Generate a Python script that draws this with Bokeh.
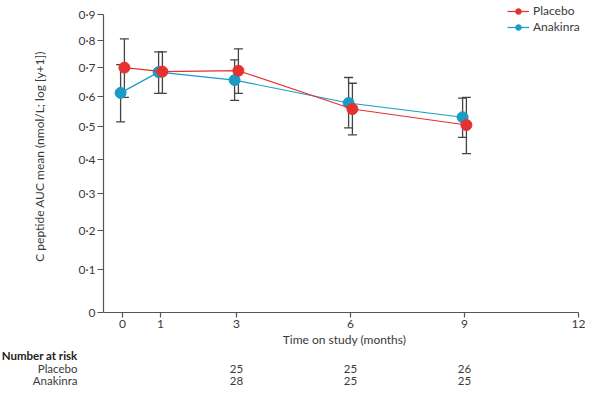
import math
from bokeh.plotting import figure
from bokeh.layouts import column
from bokeh.models import (Range1d, FixedTicker, CustomJSTickFormatter, Whisker, TeeHead,
                          ColumnDataSource, Legend, LegendItem)
from bokeh.core.properties import value
from bokeh.transform import dodge
from bokeh.embed import file_html
from bokeh.resources import INLINE

# ---- data ----
months = [0, 1, 3, 6, 9]
placebo_mean = [0.70, 0.686, 0.689, 0.558, 0.506]
placebo_upper = [0.805, 0.757, 0.768, 0.645, 0.597]
placebo_lower = [0.597, 0.610, 0.610, 0.475, 0.417]
anakinra_mean = [0.612, 0.684, 0.656, 0.578, 0.531]
anakinra_upper = [0.711, 0.757, 0.728, 0.665, 0.594]
anakinra_lower = [0.516, 0.610, 0.587, 0.497, 0.467]

x_ticks = [0, 1, 3, 6, 9, 12]
y_ticks = [0, 0.1, 0.2, 0.3, 0.4, 0.5, 0.6, 0.7, 0.8, 0.9]

risk_months = [3, 6, 9]
risk_placebo = [25, 25, 26]
risk_anakinra = [28, 25, 25]
risk_groups = ["Placebo", "Anakinra"]

# ---- axis transform ("log [y+1]"-style compressed scale) ----
C = 1.2
def T(v):
    return math.log10(v + C) - math.log10(C)

RED = "#e5312f"
BLUE = "#1a9cc6"
GREY = "#444444"
TXT = "#3a3a3a"
FONT = "Lato"

# ---- layout constants (pixels) ----
W = 585
H1, H2 = 349, 37                 # main chart, number-at-risk strip
FR_L, FR_R_AXIS = 103, 578       # frame left, x=12 position
AX_TOP, AX_BOT = 14, 317         # y=0.9 and y=0 positions
X_LO, X_HI = -0.5, 12
Y_HI = T(0.9)
PXM = (FR_R_AXIS - FR_L) / (X_HI - X_LO)
PXY = (AX_BOT - AX_TOP) / Y_HI
x_end = X_HI + (W - FR_R_AXIS) / PXM
y_end = Y_HI + AX_TOP / PXY

p = figure(width=W, height=H1, output_backend="svg", toolbar_location=None,
           x_range=Range1d(X_LO, x_end), y_range=Range1d(0, y_end),
           min_border_left=FR_L, min_border_right=0, min_border_top=0,
           min_border_bottom=H1 - AX_BOT)
p.frame_align = False
p.outline_line_color = None
p.xgrid.visible = False
p.ygrid.visible = False
p.background_fill_color = "white"
p.border_fill_color = "white"

def src(mean, up, lo):
    return ColumnDataSource(dict(x=months,
                                 y=[T(v) for v in mean],
                                 upper=[T(v) for v in up],
                                 lower=[T(v) for v in lo]))

s_pl = src(placebo_mean, placebo_upper, placebo_lower)
s_an = src(anakinra_mean, anakinra_upper, anakinra_lower)

for s, off in ((s_an, -0.05), (s_pl, 0.05)):
    w = Whisker(source=s, base=dodge("x", off), upper="upper", lower="lower",
                dimension="height", line_color=GREY, line_width=1.3, level="underlay",
                upper_head=TeeHead(size=9, line_color=GREY, line_width=1.3),
                lower_head=TeeHead(size=9, line_color=GREY, line_width=1.3))
    p.add_layout(w)

l_an = p.line(dodge("x", -0.05), "y", source=s_an, line_color=BLUE, line_width=1.2)
c_an = p.scatter(dodge("x", -0.05), "y", source=s_an, marker="circle", size=11,
                 fill_color=BLUE, line_color=BLUE)
l_pl = p.line(dodge("x", 0.05), "y", source=s_pl, line_color=RED, line_width=1.2)
c_pl = p.scatter(dodge("x", 0.05), "y", source=s_pl, marker="circle", size=11,
                 fill_color=RED, line_color=RED)

# ---- axes ----
p.xaxis.ticker = FixedTicker(ticks=x_ticks)
p.xaxis.bounds = (X_LO, X_HI)
p.yaxis.ticker = FixedTicker(ticks=[T(v) for v in y_ticks])
p.yaxis.bounds = (0, Y_HI)
p.yaxis.formatter = CustomJSTickFormatter(args=dict(C=C), code="""
    const v = Math.round((Math.pow(10, tick + Math.log10(C)) - C) * 10) / 10;
    if (Math.abs(v) < 1e-9) return "0";
    return v.toFixed(1).replace(".", "\\u00b7");
""")
for ax in (p.xaxis[0], p.yaxis[0]):
    ax.axis_line_color = "#555555"
    ax.axis_line_width = 1.2
    ax.major_tick_line_color = "#555555"
    ax.major_tick_line_width = 1.2
    ax.minor_tick_line_color = None
    ax.major_tick_in = 0
    ax.major_label_text_font = FONT
    ax.major_label_text_font_size = "12px"
    ax.major_label_text_color = TXT
    ax.axis_label_text_font = FONT
    ax.axis_label_text_font_size = "12px"
    ax.axis_label_text_font_style = "normal"
    ax.axis_label_text_color = TXT

p.xaxis.major_tick_out = 5
p.yaxis.major_tick_out = 6
p.xaxis.major_label_standoff = 2
p.yaxis.major_label_standoff = 2
p.xaxis.axis_label = "Time on study (months)"
p.xaxis.axis_label_standoff = 1
p.yaxis.axis_label = "C peptide AUC mean (nmol/L; log [y+1])"
p.yaxis.axis_label_standoff = 28

# ---- legend (frame coords, bottom-left anchor, inside the frame) ----
legend = Legend(items=[LegendItem(label="Placebo", renderers=[l_pl, c_pl]),
                       LegendItem(label="Anakinra", renderers=[l_an, c_an])],
                location=(404, AX_BOT - 39), orientation="vertical",
                background_fill_alpha=0, border_line_color=None,
                padding=0, margin=0, spacing=1,
                glyph_width=22, glyph_height=14, label_standoff=4,
                label_text_font=FONT, label_text_font_size="12px",
                label_text_color=TXT, label_height=14)
p.add_layout(legend)

# ---- number at risk strip: same x mapping, y in pixels from its top ----
t = figure(width=W, height=H2, output_backend="svg", toolbar_location=None,
           x_range=Range1d(X_LO - FR_L / PXM, x_end), y_range=Range1d(H2, 0),
           min_border=0, x_axis_type=None, y_axis_type=None)
t.frame_align = False
t.outline_line_color = None
t.xgrid.visible = False
t.ygrid.visible = False
t.background_fill_color = "white"
t.border_fill_color = "white"

head_x = X_LO - 26 / PXM
row_y = [6, 19, 31]

t.text(x=[head_x], y=[row_y[0]], text=["Number at risk"], text_align="right",
       text_baseline="middle", text_font=value(FONT), text_font_size="11.5px",
       text_font_style="bold", text_color="#222222")
t.text(x=[head_x] * 2, y=row_y[1:], text=risk_groups, text_align="right",
       text_baseline="middle", text_font=value(FONT), text_font_size="11.5px",
       text_color=TXT)
for ry, vals in zip(row_y[1:], (risk_placebo, risk_anakinra)):
    t.text(x=risk_months, y=[ry] * len(vals), text=[str(v) for v in vals],
           text_align="center", text_baseline="middle", text_font=value(FONT),
           text_font_size="11.5px", text_color=TXT)

open("out.html", "w").write(file_html(column(p, t, spacing=0), INLINE))
